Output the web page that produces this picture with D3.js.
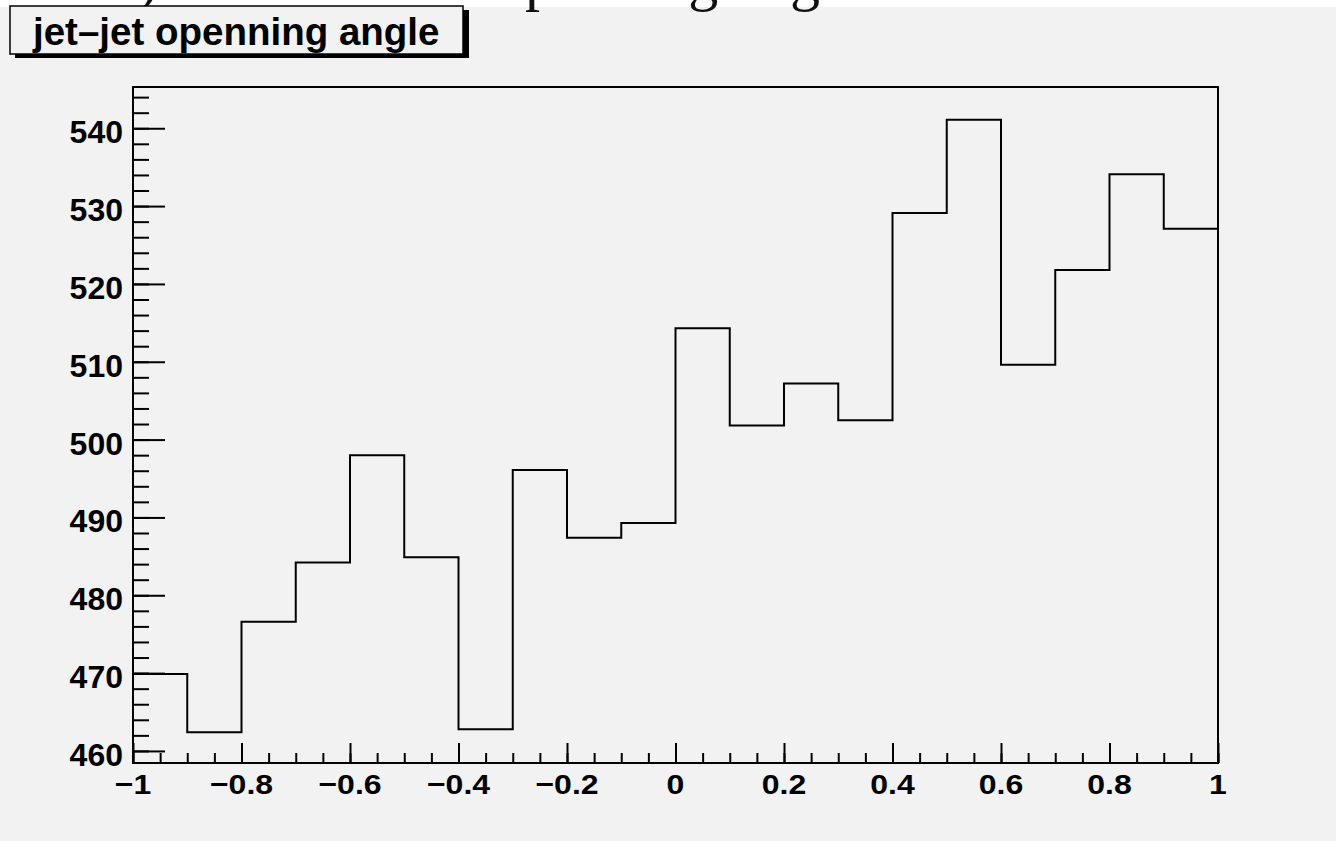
<!DOCTYPE html>
<html>
<head>
<meta charset="utf-8">
<script src="https://cdn.jsdelivr.net/npm/d3@7"></script>
<style>
  html, body { margin: 0; padding: 0; background: #f2f2f2; }
  svg { display: block; }
  text { font-family: "Liberation Sans", Arial, Helvetica, sans-serif; }
</style>
</head>
<body>
<script>
// ---- data ----
const binLowEdges = [-1.0, -0.9, -0.8, -0.7, -0.6, -0.5, -0.4, -0.3, -0.2, -0.1,
                      0.0,  0.1,  0.2,  0.3,  0.4,  0.5,  0.6,  0.7,  0.8,  0.9];
const binCounts   = [469.9, 462.4, 476.6, 484.2, 498.0, 484.9, 462.8, 496.1, 487.4, 489.3,
                     514.3, 501.8, 507.2, 502.5, 529.1, 541.1, 509.6, 521.8, 534.1, 527.1];
const xTickValues = [-1, -0.8, -0.6, -0.4, -0.2, 0, 0.2, 0.4, 0.6, 0.8, 1];
const xTickLabels = ["\u22121", "\u22120.8", "\u22120.6", "\u22120.4", "\u22120.2", "0", "0.2", "0.4", "0.6", "0.8", "1"];
const yTickValues = [460, 470, 480, 490, 500, 510, 520, 530, 540];
const yTickLabels = ["460", "470", "480", "490", "500", "510", "520", "530", "540"];
const histTitle = "jet\u2013jet openning angle";

// ---- layout ----
const W = 1336, H = 841;
const frame = { left: 133, right: 1218, top: 87, bottom: 763 };

const svg = d3.select("body").append("svg").attr("width", W).attr("height", H);
svg.append("rect").attr("width", W).attr("height", H).attr("fill", "#f2f2f2");

// clipped big serif caption at the very top
svg.append("rect").attr("x", 0).attr("y", 0).attr("width", W).attr("height", 7).attr("fill", "#ffffff");
const topText = svg.append("g").attr("font-family", "'Liberation Serif', 'Times New Roman', serif").attr("font-size", 60).attr("fill", "#111");
topText.append("text").attr("x", 158).attr("y", -1).attr("text-anchor", "end")
  .style("font-family", "'Liberation Serif', serif").text("FIG. 1)");
topText.append("text").attr("x", 480).attr("y", -1).attr("text-anchor", "end")
  .style("font-family", "'Liberation Serif', serif").text("Cosine of the");
topText.append("text").attr("x", 495).attr("y", -1)
  .style("font-family", "'Liberation Serif', serif").text("openning angle distribution");

// scales
const x = d3.scaleLinear().domain([-1, 1]).range([frame.left, frame.right]);
const y = d3.scaleLinear().domain([458.45, 545.3]).range([frame.bottom, frame.top]);

// frame
svg.append("rect")
  .attr("x", frame.left).attr("y", frame.top)
  .attr("width", frame.right - frame.left).attr("height", frame.bottom - frame.top)
  .attr("fill", "none").attr("stroke", "#000").attr("stroke-width", 2);

// x axis ticks (pointing into the frame)
const xMinor = d3.range(-1, 1.0001, 0.05).map(v => +v.toFixed(2));
const xMinorAxis = d3.axisBottom(x).tickValues(xMinor).tickSize(-10).tickFormat("");
const xMajorAxis = d3.axisBottom(x).tickValues(xTickValues).tickSize(-20).tickFormat("");
[xMinorAxis, xMajorAxis].forEach(ax => {
  const g = svg.append("g").attr("transform", `translate(0,${frame.bottom})`).call(ax);
  g.select(".domain").remove();
  g.selectAll(".tick line").attr("stroke", "#000").attr("stroke-width", 2);
});

// y axis ticks
const yMinor = d3.range(460, 545, 2);
const yMinorAxis = d3.axisLeft(y).tickValues(yMinor).tickSize(-16).tickFormat("");
const yMajorAxis = d3.axisLeft(y).tickValues(yTickValues).tickSize(-32).tickFormat("");
[yMinorAxis, yMajorAxis].forEach(ax => {
  const g = svg.append("g").attr("transform", `translate(${frame.left},0)`).call(ax);
  g.select(".domain").remove();
  g.selectAll(".tick line").attr("stroke", "#000").attr("stroke-width", 2);
});

// tick labels
svg.append("g").selectAll("text").data(xTickValues).join("text")
  .attr("transform", d => `translate(${x(d)},794) scale(1,0.89)`)
  .attr("text-anchor", "middle")
  .attr("font-size", 32).attr("font-weight", "bold").attr("fill", "#000")
  .text((d, i) => xTickLabels[i]);

svg.append("g").selectAll("text").data(yTickValues).join("text")
  .attr("x", 123).attr("y", d => y(d) + 15)
  .attr("text-anchor", "end")
  .attr("font-size", 32).attr("font-weight", "bold").attr("fill", "#000")
  .text((d, i) => yTickLabels[i]);

// histogram (step line)
const pts = binLowEdges.map((e, i) => [e, binCounts[i]]);
pts.push([1, binCounts[binCounts.length - 1]]);
const line = d3.line().x(d => x(d[0])).y(d => y(d[1])).curve(d3.curveStepAfter);
svg.append("path").datum(pts)
  .attr("d", line).attr("fill", "none").attr("stroke", "#000").attr("stroke-width", 2);

// title box with shadow
svg.append("rect").attr("x", 15).attr("y", 10).attr("width", 454).attr("height", 48).attr("fill", "#000");
svg.append("rect").attr("x", 10).attr("y", 6).attr("width", 453).attr("height", 48)
  .attr("fill", "#f2f2f2").attr("stroke", "#000").attr("stroke-width", 1.5);
svg.append("text").attr("x", 33).attr("y", 45)
  .attr("font-size", 38.5).attr("font-weight", "bold").attr("fill", "#000")
  .text(histTitle);
</script>
</body>
</html>
